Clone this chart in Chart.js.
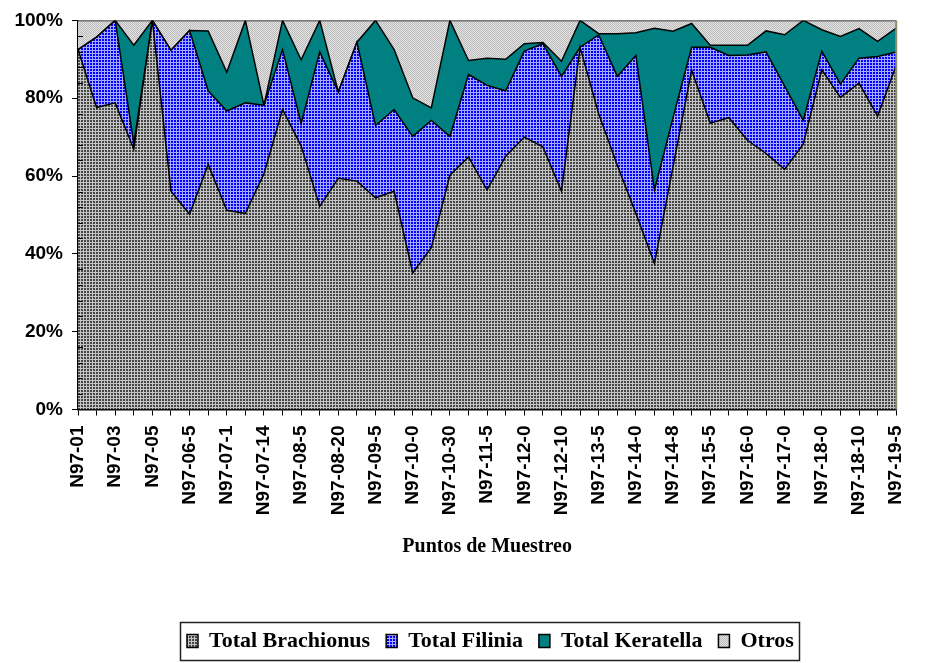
<!DOCTYPE html>
<html>
<head>
<meta charset="utf-8">
<script src="https://cdn.jsdelivr.net/npm/chart.js@4.4.1/dist/chart.umd.min.js"></script>
<style>
html,body{margin:0;padding:0;background:#fff;}
#wrap{width:929px;height:663px;position:relative;}
</style>
</head>
<body>
<div id="wrap"><canvas id="c" width="929" height="663"></canvas></div>
<script>
// ---- DATA ----
const categories = [
  'N97-01','N97-02','N97-03','N97-04','N97-05','N97-06-0','N97-06-5','N97-06-10',
  'N97-07-1','N97-07-5','N97-07-14','N97-08-0','N97-08-5','N97-08-10','N97-08-20',
  'N97-09-0','N97-09-5','N97-09-10','N97-10-0','N97-10-10','N97-10-30','N97-11-0',
  'N97-11-5','N97-11-10','N97-12-0','N97-12-5','N97-12-10','N97-13-0','N97-13-5',
  'N97-13-10','N97-14-0','N97-14-5','N97-14-8','N97-15-0','N97-15-5','N97-15-10',
  'N97-16-0','N97-16-5','N97-17-0','N97-17-5','N97-18-0','N97-18-5','N97-18-10',
  'N97-19-0','N97-19-5'
];
const brachionus = [92.5,77.6,78.8,66.9,100,56.1,50.2,63.0,51.2,50.4,60.6,77.1,67.7,52.2,59.4,
  58.7,54.4,56.1,35.1,41.6,60.2,64.9,56.4,65.1,70.0,67.5,56.1,93.1,76.0,62.8,50.4,37.5,62.4,
  87.2,73.6,75.0,69.2,65.8,61.7,68.2,87.3,80.2,83.9,75.4,88.4];
const filinia = [0,18.1,21.2,1.4,0,36.2,47.2,18.9,25.5,28.4,17.6,15.4,5.8,39.7,22.2,
  35.7,18.6,21.0,35.1,32.7,10.0,21.2,26.9,16.8,22.1,26.5,29.5,0,20.3,22.8,40.6,18.9,12.6,
  5.9,19.5,16.0,21.9,26.1,21.4,6.1,4.8,3.4,6.4,15.3,3.5];
const keratella = [0,0,0,25.3,0,0,0,15.4,10.0,21.2,0,7.5,16.4,8.1,0,
  0,27.0,15.4,9.9,3.2,29.8,3.6,7.0,8.1,1.9,0.3,3.9,6.9,0.3,11.0,5.8,41.6,22.2,
  6.1,0.5,2.6,2.5,5.4,13.2,25.7,5.5,12.3,7.6,3.9,6.1];
const otros = [7.5,4.3,0,6.4,0,7.7,2.6,2.7,13.3,0,21.8,0,10.1,0,18.4,
  5.6,0,7.5,19.9,22.5,0,10.3,9.7,10.0,6.0,5.7,10.5,0,3.4,3.4,3.2,2.0,2.8,
  0.8,6.4,6.4,6.4,2.7,3.7,0,2.4,4.1,2.1,5.4,2.0];
const seriesNames = ['Total Brachionus','Total Filinia','Total Keratella','Otros'];
const yTickLabels = {0:'0%',20:'20%',40:'40%',60:'60%',80:'80%',100:'100%'};
const axisTitle = 'Puntos de Muestreo';

// ---- LAYOUT TARGETS ----
const TARGET = {left:78, top:20, right:917, bottom:409.5};
const LEG_CX = 480, LEG_CY = 641, TITLE_Y = 547;
let axisH = 150, legendDx = 0, legendDy = 0;

const canvas = document.getElementById('c');
const ctx = canvas.getContext('2d');

function makePattern(w, h, draw) {
  const t = document.createElement('canvas');
  t.width = w; t.height = h;
  const g = t.getContext('2d');
  draw(g);
  return ctx.createPattern(t, 'repeat');
}
const patBrach = makePattern(3, 3, g => {
  g.fillStyle = '#c4c4c4'; g.fillRect(0, 0, 3, 3);
  g.fillStyle = '#464646'; g.fillRect(0, 0, 2, 2);
});
const patFil = makePattern(3, 3, g => {
  g.fillStyle = '#a8a8ff'; g.fillRect(0, 0, 3, 3);
  g.fillStyle = '#0000ff'; g.fillRect(0, 0, 2, 2);
});
const patOtros = makePattern(2, 2, g => {
  g.fillStyle = '#e2e2e2'; g.fillRect(0, 0, 2, 2);
  g.fillStyle = '#bcbcbc'; g.fillRect(0, 0, 1, 1); g.fillRect(1, 1, 1, 1);
});

const sansFont = '"Liberation Sans", Arial, sans-serif';
const serifFont = '"Liberation Serif", "Times New Roman", serif';

const legendShift = {
  id: 'legendShift',
  afterLayout(chart) {
    const lg = chart.legend;
    if (!lg) return;
    lg.left += legendDx; lg.right += legendDx;
    lg.top += legendDy; lg.bottom += legendDy;
  }
};

const decorations = {
  id: 'decorations',
  afterDatasetsDraw(chart) {
    const c = chart.ctx, a = chart.chartArea, ys = chart.scales.y;
    c.save();
    c.strokeStyle = '#000'; c.lineWidth = 1;
    for (let v = 4; v < 100; v += 4) {
      if (v % 20 === 0) continue;
      const y = Math.round(ys.getPixelForValue(v)) + 0.5;
      c.beginPath(); c.moveTo(a.left, y); c.lineTo(a.left + 5, y); c.stroke();
    }
    c.strokeStyle = '#8e8e70'; c.lineWidth = 2;
    c.beginPath(); c.moveTo(a.right, a.top); c.lineTo(a.right, a.bottom); c.stroke();
    c.restore();
  },
  afterDraw(chart) {
    const lg = chart.legend;
    if (!lg || !lg.legendHitBoxes || !lg.legendHitBoxes.length) return;
    const hb = lg.legendHitBoxes;
    const l = hb[0].left, r = hb[hb.length - 1].left + hb[hb.length - 1].width;
    const cy = hb[0].top + hb[0].height / 2;
    const c = chart.ctx;
    c.save();
    c.strokeStyle = '#222'; c.lineWidth = 1.5;
    c.strokeRect(Math.round(l - 7) + 0.5, Math.round(cy - 19) + 0.5, Math.round(r - l + 12), 38);
    c.restore();
  }
};

const chart = new Chart(ctx, {
  type: 'line',
  data: {
    labels: categories,
    datasets: [
      {label: seriesNames[0], data: brachionus, backgroundColor: patBrach, fill: 'origin'},
      {label: seriesNames[1], data: filinia, backgroundColor: patFil, fill: '-1'},
      {label: seriesNames[2], data: keratella, backgroundColor: '#008080', fill: '-1'},
      {label: seriesNames[3], data: otros, backgroundColor: patOtros, fill: '-1'}
    ].map(d => Object.assign(d, {borderColor: '#000', borderWidth: 1.5, pointRadius: 0, pointHoverRadius: 0, tension: 0}))
  },
  options: {
    responsive: false,
    animation: false,
    devicePixelRatio: 1,
    events: [],
    layout: {padding: {left: 0, right: 12, top: 10, bottom: 0}},
    plugins: {
      tooltip: {enabled: false},
      legend: {
        position: 'bottom',
        labels: {
          font: {family: serifFont, weight: 'bold', size: 22},
          color: '#000', boxWidth: 11, boxHeight: 13, padding: 16
        }
      }
    },
    scales: {
      x: {
        type: 'category',
        offset: false,
        grid: {display: true, drawOnChartArea: false, drawTicks: true, tickLength: 6, color: '#000', tickColor: '#000', tickWidth: 1},
        border: {display: true, color: '#000', width: 1.5},
        ticks: {
          autoSkip: false, minRotation: 90, maxRotation: 90, padding: 10,
          font: {family: sansFont, weight: 'bold', size: 19}, color: '#000',
          callback: (v, i) => (i % 2 === 0 ? categories[i] : '')
        },
        title: {
          display: true, text: axisTitle, color: '#000',
          font: {family: serifFont, weight: 'bold', size: 20},
          padding: {top: 0, bottom: 0}
        },
        afterFit: s => { s.height = axisH; }
      },
      y: {
        stacked: true, min: 0, max: 100,
        grid: {display: true, drawOnChartArea: false, drawTicks: true, tickLength: 6,
          tickColor: c => (c.tick && c.tick.value % 20 === 0 ? '#000' : 'rgba(0,0,0,0)')},
        border: {display: true, color: '#000', width: 1.5},
        ticks: {
          stepSize: 4, autoSkip: false, padding: 9,
          font: {family: sansFont, weight: 'bold', size: 19}, color: '#000',
          callback: v => (yTickLabels[v] !== undefined ? yTickLabels[v] : '')
        }
      }
    }
  },
  plugins: [legendShift, decorations]
});

for (let k = 0; k < 5; k++) {
  const a = chart.chartArea;
  const p = chart.options.layout.padding;
  p.left += TARGET.left - a.left;
  p.right += a.right - TARGET.right;
  p.top += TARGET.top - a.top;
  axisH += a.bottom - TARGET.bottom;
  const hb = chart.legend.legendHitBoxes;
  if (hb && hb.length) {
    const l = hb[0].left, r = hb[hb.length - 1].left + hb[hb.length - 1].width;
    const cy = hb[0].top + hb[0].height / 2;
    legendDx += LEG_CX - (l + r) / 2;
    legendDy += LEG_CY - cy;
  }
  const lh = 20 * 1.2;
  chart.options.scales.x.title.padding = {top: 0, bottom: Math.max(0, chart.scales.x.bottom - TITLE_Y - lh / 2)};
  chart.update('none');
}
</script>
</body>
</html>
